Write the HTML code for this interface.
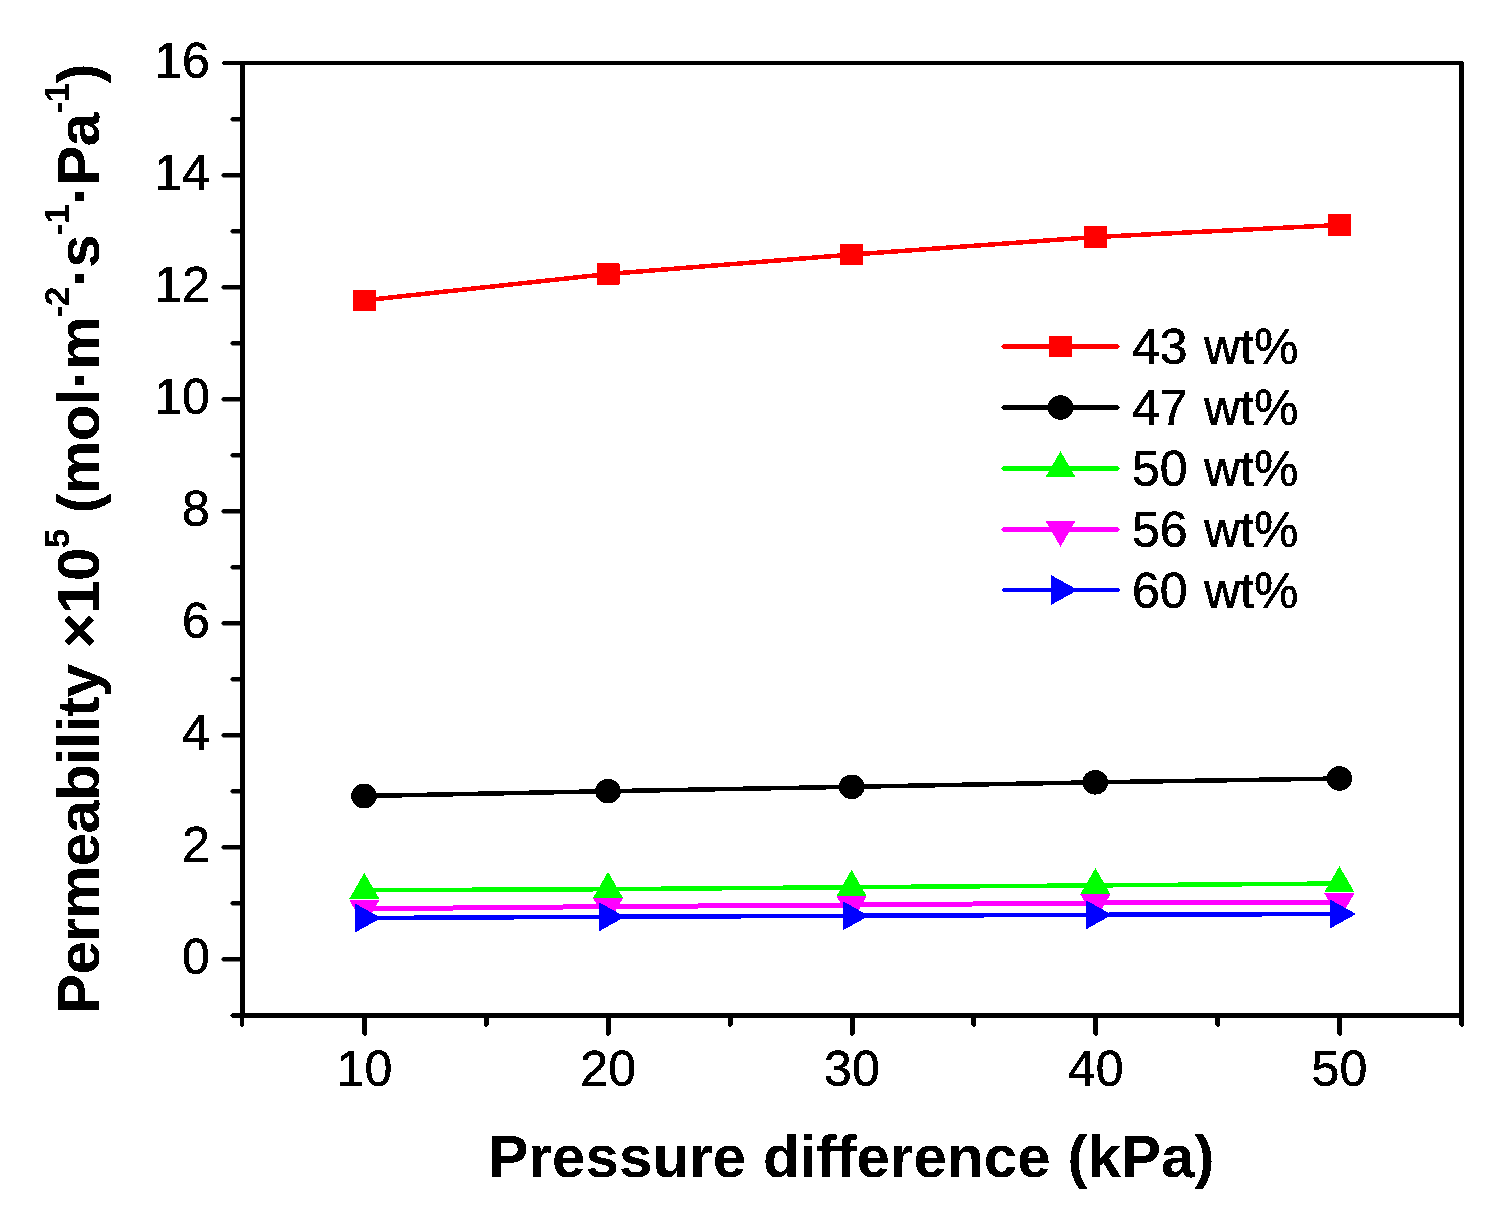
<!DOCTYPE html>
<html lang="en"><head><meta charset="utf-8"><title>Permeability vs pressure difference</title>
<style>
html,body{margin:0;padding:0;background:#fff;}
body{width:1502px;height:1208px;overflow:hidden;}
svg{display:block;font-family:"Liberation Sans",Arial,Helvetica,sans-serif;}
.tk{font-size:50px;fill:#000;stroke:#000;stroke-width:0.5px;}
.ttl{font-size:60px;font-weight:bold;fill:#000;stroke:#000;stroke-width:0.12px;}
.sup{font-size:35px;}
</style></head><body>
<svg width="1502" height="1208" viewBox="0 0 1502 1208">
<defs><filter id="bw" filterUnits="userSpaceOnUse" x="0" y="0" width="1502" height="1208" color-interpolation-filters="sRGB"><feComponentTransfer><feFuncA type="discrete" tableValues="0 1"/></feComponentTransfer></filter></defs>
<rect width="1502" height="1208" fill="#fff"/>
<g fill="#000" shape-rendering="crispEdges">
<rect x="240" y="62" width="5" height="956"/>
<rect x="1459" y="62" width="5" height="963"/>
<polygon points="1459,1025 1464,1025 1461.5,1027.5"/>
<rect x="223" y="61" width="1240" height="4"/>
<polygon points="223,61 223,65 221,63"/>
<rect x="232" y="1013" width="1232" height="5"/>
<polygon points="232,1013 232,1018 229.5,1015.5"/>
<rect x="240" y="1018" width="4" height="8"/>
<polygon points="240,1026 244,1026 242,1027.5"/>
<polygon shape-rendering="auto" points="245,957 223,957 221,959.25 223,961.5 245,961.5"/>
<polygon shape-rendering="auto" points="245,845 223,845 221,847.25 223,849.5 245,849.5"/>
<polygon shape-rendering="auto" points="245,733 223,733 221,735.25 223,737.5 245,737.5"/>
<polygon shape-rendering="auto" points="245,621 223,621 221,623.25 223,625.5 245,625.5"/>
<polygon shape-rendering="auto" points="245,509 223,509 221,511.25 223,513.5 245,513.5"/>
<polygon shape-rendering="auto" points="245,397 223,397 221,399.25 223,401.5 245,401.5"/>
<polygon shape-rendering="auto" points="245,285 223,285 221,287.25 223,289.5 245,289.5"/>
<polygon shape-rendering="auto" points="245,173 223,173 221,175.25 223,177.5 245,177.5"/>
<polygon shape-rendering="auto" points="245,901 232,901 230,903.25 232,905.5 245,905.5"/>
<polygon shape-rendering="auto" points="245,789 232,789 230,791.25 232,793.5 245,793.5"/>
<polygon shape-rendering="auto" points="245,677 232,677 230,679.25 232,681.5 245,681.5"/>
<polygon shape-rendering="auto" points="245,565 232,565 230,567.25 232,569.5 245,569.5"/>
<polygon shape-rendering="auto" points="245,453 232,453 230,455.25 232,457.5 245,457.5"/>
<polygon shape-rendering="auto" points="245,341 232,341 230,343.25 232,345.5 245,345.5"/>
<polygon shape-rendering="auto" points="245,229 232,229 230,231.25 232,233.5 245,233.5"/>
<polygon shape-rendering="auto" points="245,117 232,117 230,119.25 232,121.5 245,121.5"/>
<polygon points="362,1015 362,1034 364.5,1036.5 367,1034 367,1015"/>
<polygon points="605.75,1015 605.75,1034 608.25,1036.5 610.75,1034 610.75,1015"/>
<polygon points="849.5,1015 849.5,1034 852,1036.5 854.5,1034 854.5,1015"/>
<polygon points="1093.25,1015 1093.25,1034 1095.75,1036.5 1098.25,1034 1098.25,1015"/>
<polygon points="1337,1015 1337,1034 1339.5,1036.5 1342,1034 1342,1015"/>
<polygon points="483.88,1015 483.88,1025 486.38,1027.5 488.88,1025 488.88,1015"/>
<polygon points="727.62,1015 727.62,1025 730.12,1027.5 732.62,1025 732.62,1015"/>
<polygon points="971.38,1015 971.38,1025 973.88,1027.5 976.38,1025 976.38,1015"/>
<polygon points="1215.12,1015 1215.12,1025 1217.62,1027.5 1220.12,1025 1220.12,1015"/>
</g>
<g shape-rendering="crispEdges">
<path d="M364.5,300.3 L608,274 L851.6,254.6 L1095.5,237 L1339.5,225" stroke="#ff0000" stroke-width="4.5" fill="none"/>
<rect x="353" y="289.5" width="23" height="21.6" rx="1.2" fill="#ff0000"/>
<rect x="596.5" y="263.2" width="23" height="21.6" rx="1.2" fill="#ff0000"/>
<rect x="840.1" y="243.8" width="23" height="21.6" rx="1.2" fill="#ff0000"/>
<rect x="1084" y="226.2" width="23" height="21.6" rx="1.2" fill="#ff0000"/>
<rect x="1328" y="214.2" width="23" height="21.6" rx="1.2" fill="#ff0000"/>
<path d="M364,796 L608,791.2 L851.7,786.8 L1095.3,782.3 L1339.4,778.5" stroke="#000000" stroke-width="4.5" fill="none"/>
<ellipse cx="364" cy="796" rx="12.8" ry="12.3" fill="#000000"/>
<ellipse cx="608" cy="791.2" rx="12.8" ry="12.3" fill="#000000"/>
<ellipse cx="851.7" cy="786.8" rx="12.8" ry="12.3" fill="#000000"/>
<ellipse cx="1095.3" cy="782.3" rx="12.8" ry="12.3" fill="#000000"/>
<ellipse cx="1339.4" cy="778.5" rx="12.8" ry="12.3" fill="#000000"/>
<path d="M364.3,890.2 L608,889.2 L851.6,887.2 L1095.4,885.4 L1339.4,883.5" stroke="#00ff00" stroke-width="4.5" fill="none"/>
<polygon points="349.3,898.86 379.3,898.86 364.3,872.88" fill="#00ff00"/>
<polygon points="593,897.86 623,897.86 608,871.88" fill="#00ff00"/>
<polygon points="836.6,895.86 866.6,895.86 851.6,869.88" fill="#00ff00"/>
<polygon points="1080.4,894.06 1110.4,894.06 1095.4,868.08" fill="#00ff00"/>
<polygon points="1324.4,892.16 1354.4,892.16 1339.4,866.18" fill="#00ff00"/>
<path d="M364.3,908.8 L608,906.6 L851.6,905 L1095.4,903 L1339.4,902" stroke="#ff00ff" stroke-width="5" fill="none"/>
<polygon points="349.3,900.14 379.3,900.14 364.3,926.12" fill="#ff00ff"/>
<polygon points="593,897.94 623,897.94 608,923.92" fill="#ff00ff"/>
<polygon points="836.6,896.34 866.6,896.34 851.6,922.32" fill="#ff00ff"/>
<polygon points="1080.4,894.34 1110.4,894.34 1095.4,920.32" fill="#ff00ff"/>
<polygon points="1324.4,893.34 1354.4,893.34 1339.4,919.32" fill="#ff00ff"/>
<path d="M363.8,918 L607.8,916.8 L851.7,915.8 L1094.8,914.8 L1338.8,914" stroke="#0000ff" stroke-width="4.5" fill="none"/>
<polygon points="354.74,903.3 354.74,932.7 381.12,918" fill="#0000ff"/>
<polygon points="598.74,902.1 598.74,931.5 625.12,916.8" fill="#0000ff"/>
<polygon points="842.64,901.1 842.64,930.5 869.02,915.8" fill="#0000ff"/>
<polygon points="1085.74,900.1 1085.74,929.5 1112.12,914.8" fill="#0000ff"/>
<polygon points="1329.74,899.3 1329.74,928.7 1356.12,914" fill="#0000ff"/>
<polygon points="1001,346.5 1003,344 1118,344 1120,346.5 1118,349 1003,349" fill="#ff0000"/>
<rect x="1049" y="335.7" width="23" height="21.6" rx="1.2" fill="#ff0000"/>
<polygon points="1001,407.5 1003,405 1118,405 1120,407.5 1118,410 1003,410" fill="#000000"/>
<ellipse cx="1060.5" cy="407.5" rx="12.8" ry="12.3" fill="#000000"/>
<polygon points="1001,468.5 1003,466 1118,466 1120,468.5 1118,471 1003,471" fill="#00ff00"/>
<polygon points="1045.5,477.16 1075.5,477.16 1060.5,451.18" fill="#00ff00"/>
<polygon points="1001,529.5 1003,527 1118,527 1120,529.5 1118,532 1003,532" fill="#ff00ff"/>
<polygon points="1045.5,520.84 1075.5,520.84 1060.5,546.82" fill="#ff00ff"/>
<polygon points="1001,590 1003,588 1118,588 1120,590 1118,592 1003,592" fill="#0000ff"/>
<polygon points="1051.44,575.3 1051.44,604.7 1077.82,590" fill="#0000ff"/>
</g>
<g filter="url(#bw)">
<g class="tk" text-anchor="end">
<text x="209.8" y="973.5">0</text>
<text x="209.8" y="861.5">2</text>
<text x="209.8" y="749.5">4</text>
<text x="209.8" y="637.5">6</text>
<text x="209.8" y="525.5">8</text>
<text x="209.8" y="413.5">10</text>
<text x="209.8" y="301.5">12</text>
<text x="209.8" y="189.5">14</text>
<text x="209.8" y="77.5">16</text>
</g>
<g class="tk" text-anchor="middle">
<text x="364.4" y="1086">10</text>
<text x="608.15" y="1086">20</text>
<text x="851.9" y="1086">30</text>
<text x="1095.65" y="1086">40</text>
<text x="1339.4" y="1086">50</text>
</g>
<g class="tk" word-spacing="2.4">
<text x="1132" y="364">43 wt%</text>
<text x="1132" y="425">47 wt%</text>
<text x="1132" y="486">50 wt%</text>
<text x="1132" y="547">56 wt%</text>
<text x="1132" y="608">60 wt%</text>
</g>
<text class="ttl" x="851.6" y="1177" text-anchor="middle" letter-spacing="0.1">Pressure difference (kPa)</text>
<text class="ttl" transform="translate(99,1014) rotate(-90)" letter-spacing="-0.6">Permeability ×10<tspan class="sup" dy="-30">5</tspan><tspan dy="30"> (mol·m</tspan><tspan class="sup" dy="-30">-2</tspan><tspan dy="30">·s</tspan><tspan class="sup" dy="-30">-1</tspan><tspan dy="30">·Pa</tspan><tspan class="sup" dy="-30">-1</tspan><tspan dy="30">)</tspan></text>
</g>
</svg></body></html>
